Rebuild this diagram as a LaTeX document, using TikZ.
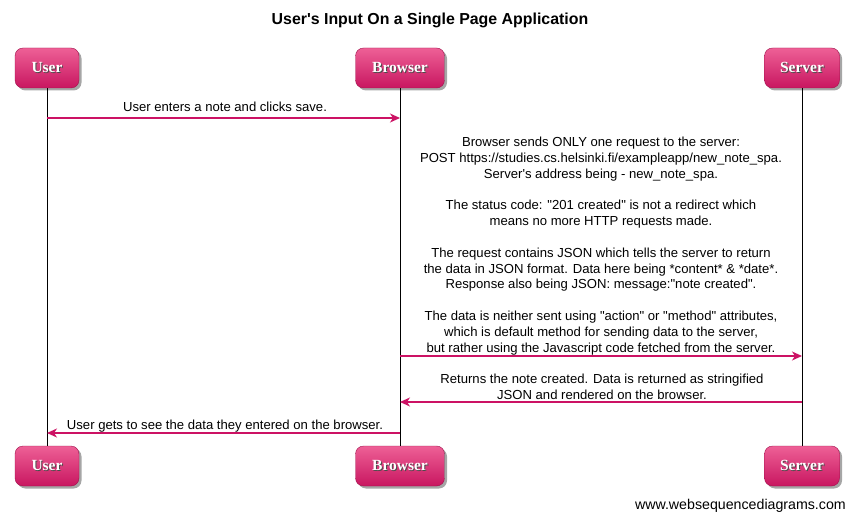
\documentclass[tikz,border=0pt]{standalone}
\usepackage{fontspec}
\setmainfont{Liberation Sans}[Ligatures=TeXOff]
\newfontfamily\boxfont{Liberation Serif}
\usetikzlibrary{arrows.meta,shadows}
\definecolor{wsdpink}{RGB}{204,18,100}
\definecolor{boxtop}{RGB}{238,96,150}
\definecolor{boxbot}{RGB}{200,22,96}
\newcommand{\shtext}[1]{\makebox[0pt][l]{\hspace{1pt}\raisebox{-1pt}{\textcolor{black!70}{#1}}}#1}
\tikzset{
  actor/.style={rounded corners=8pt, minimum height=40pt, inner sep=0pt,
    top color=boxtop, bottom color=boxbot, draw=boxbot!80!black, line width=0.4pt,
    drop shadow={shadow xshift=2.5pt, shadow yshift=-2.5pt, fill=black, opacity=0.35},
    font=\boxfont\bfseries\fontsize{15.5}{17}\selectfont, text=white},
  lifeline/.style={draw=black, line width=0.8pt},
  msg/.style={draw=wsdpink, line width=1.4pt, -{Stealth[length=10pt,width=9pt,inset=3pt]}},
  msgtext/.style={font=\fontsize{13.1}{15.8}\selectfont, align=center, inner sep=0pt, anchor=base},
}
\begin{document}
\begin{tikzpicture}[x=1pt,y=-1pt]
\useasboundingbox[fill=white] (0,0) rectangle (855,519);
\node[font=\bfseries\fontsize{15.9}{18}\selectfont, anchor=base] (title) at (430,25) {User's Input On a Single Page Application};

\node[actor, minimum width=64pt] (ut) at (47,68) {\shtext{User}};
\node[actor, minimum width=89pt] (bt) at (400,68) {\shtext{Browser}};
\node[actor, minimum width=75pt] (st) at (802,68) {\shtext{Server}};
\node[actor, minimum width=64pt] (ub) at (47,466) {\shtext{User}};
\node[actor, minimum width=89pt] (bb) at (400,466) {\shtext{Browser}};
\node[actor, minimum width=75pt] (sb) at (802,466) {\shtext{Server}};

\draw[lifeline] (ut) -- (ub);
\draw[lifeline] (bt) -- (bb);
\draw[lifeline] (st) -- (sb);

\coordinate (u1) at (47,118);   \coordinate (b1) at (400,118);
\coordinate (b2) at (400,356);  \coordinate (s2) at (802,356);
\coordinate (s3) at (802,402);  \coordinate (b3) at (400,402);
\coordinate (b4) at (400,433);  \coordinate (u4) at (47,433);

\draw[msg] (u1) -- (b1);
\draw[msg] (b2) -- (s2);
\draw[msg] (s3) -- (b3);
\draw[msg] (b4) -- (u4);

\node[msgtext] (t1) at (225,112) {User enters a note and clicks save.};
\node[msgtext, anchor=north] (t2) at (601,137) {Browser sends ONLY one request to the server:\\
POST https://studies.cs.helsinki.fi/exampleapp/new\_note\_spa.\\
Server's address being - new\_note\_spa.\\
\mbox{}\\
The status code: "201 created" is not a redirect which\\
means no more HTTP requests made.\\
\mbox{}\\
The request contains JSON which tells the server to return\\
the data in JSON format. Data here being *content* \& *date*.\\
Response also being JSON: message:"note created".\\
\mbox{}\\
The data is neither sent using "action" or "method" attributes,\\
which is default method for sending data to the server,\\
but rather using the Javascript code fetched from the server.};
\node[msgtext, anchor=north] (t3) at (602,374) {Returns the note created. Data is returned as stringified\\
JSON and rendered on the browser.};
\node[msgtext] (t4) at (225,429) {User gets to see the data they entered on the browser.};

\node[font=\fontsize{14.2}{16}\selectfont, anchor=base east, inner sep=0pt] (footer) at (846,509) {www.websequencediagrams.com};
\end{tikzpicture}
\end{document}
